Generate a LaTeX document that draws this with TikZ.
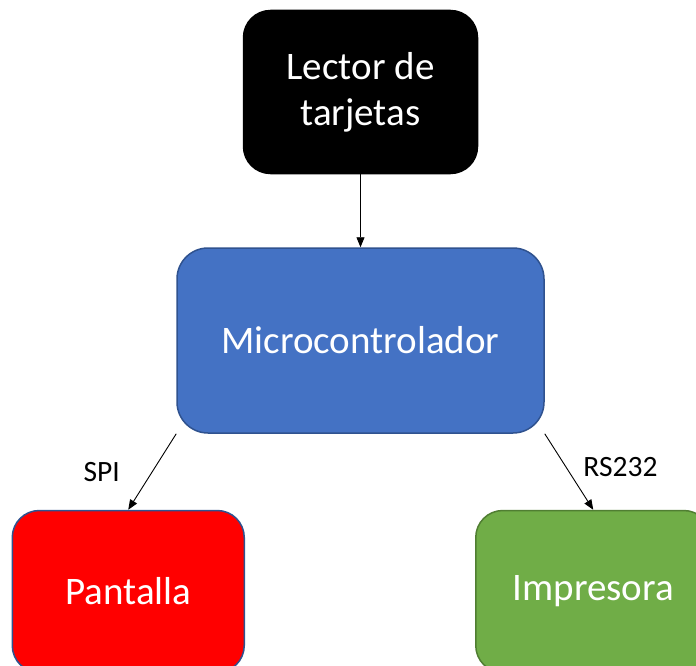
\documentclass[tikz,border=0pt]{standalone}
\usepackage{fontspec}
\setmainfont{Carlito}
\usetikzlibrary{positioning,arrows.meta}
\definecolor{azul}{HTML}{4472C4}
\definecolor{azulborde}{HTML}{2F528F}
\definecolor{verde}{HTML}{70AD47}
\definecolor{verdeborde}{HTML}{507E32}
\tikzset{
	bloque/.style={draw, line width=1.5pt, align=center, text=white, inner sep=0pt,
		font=\fontsize{39}{46}\selectfont},
	etiqueta/.style={font=\fontsize{29.5}{35}\selectfont, inner sep=0pt},
	flecha/.style={-{Triangle[length=10pt,width=8pt]}, line width=0.9pt}
}

\begin{document}
\begin{tikzpicture}[x=1pt,y=-1pt]
	\useasboundingbox (0,0) rectangle (696,666);
	\clip (0,0) rectangle (696,666);
	
	\node[bloque, fill=azul, draw=azulborde, minimum width=367pt, minimum height=185pt,
		rounded corners=31pt] (micro) at (360.5,340.5) {Microcontrolador};
	\node[bloque, fill=black, draw=black, minimum width=234pt, minimum height=163pt,
		rounded corners=27pt, above=73pt of micro] (lector) {Lector de\\tarjetas};
	\node[bloque, fill=red, draw=azulborde, minimum width=232pt, minimum height=162pt,
		rounded corners=27pt, below=76pt of micro.south west, xshift=-48pt] (pantalla) {Pantalla};
	\node[bloque, fill=verde, draw=verdeborde, minimum width=235pt, minimum height=162pt,
		rounded corners=27pt, below=76pt of micro.south east, xshift=48.5pt] (impresora) {Impresora};
	
	\draw[flecha] (lector) -- (micro);
	\draw[flecha] (micro.south west) -- node[etiqueta, left=32pt] {SPI} (pantalla.north);
	\draw[flecha] (micro.south east) -- node[etiqueta, right=14pt, yshift=5pt] {RS232} (impresora.north);
\end{tikzpicture}
\end{document}
